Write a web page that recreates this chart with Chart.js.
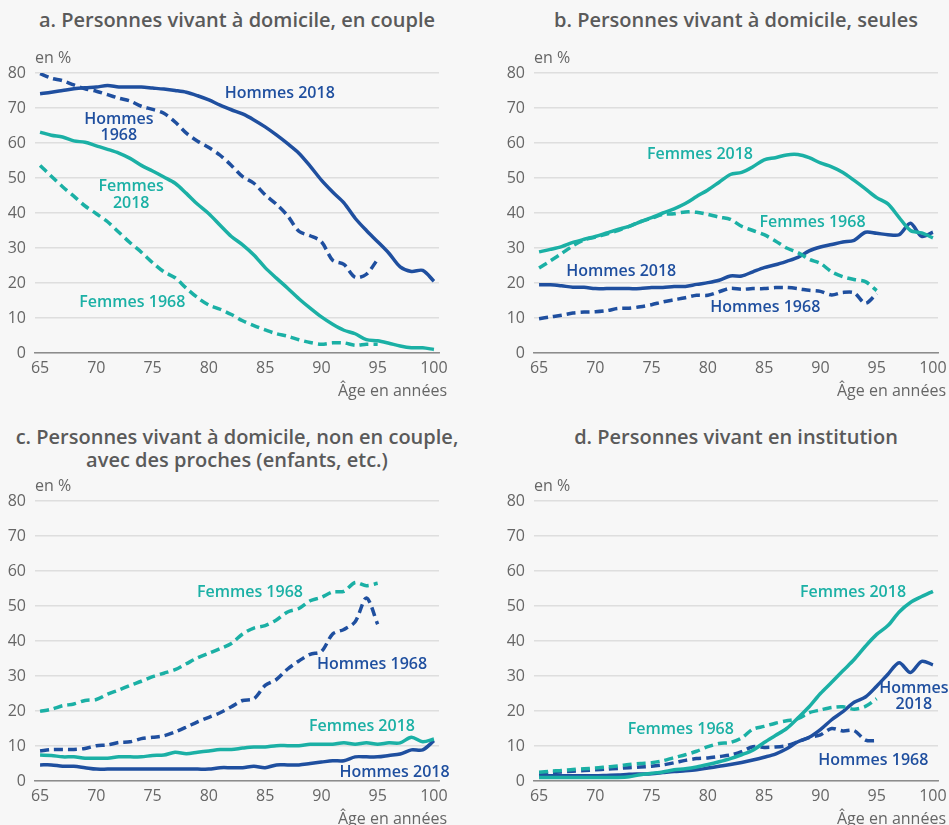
<!DOCTYPE html>
<html lang="fr">
<head>
<meta charset="utf-8">
<script src="https://cdn.jsdelivr.net/npm/chart.js@4"></script>
<style>
  html, body { margin: 0; padding: 0; }
  body { width: 949px; height: 825px; background: #f7f7f7; position: relative; overflow: hidden;
         font-family: "Open Sans", sans-serif; }
  .title { position: absolute; width: 480px; text-align: center; font-size: 20px; font-weight: 600;
           color: #5a5a5a; line-height: 23px; }
  canvas { position: absolute; }
</style>
</head>
<body>
<div class="title" style="left:-3px; top:8px;">a. Personnes vivant à domicile, en couple</div>
<div class="title" style="left:496px; top:8px;">b. Personnes vivant à domicile, seules</div>
<div class="title" style="left:-3px; top:425px;">c. Personnes vivant à domicile, non en couple,<br>avec des proches (enfants, etc.)</div>
<div class="title" style="left:496px; top:425px;">d. Personnes vivant en institution</div>
<canvas id="chartA" width="449" height="370" style="left:0; top:40px;"></canvas>
<canvas id="chartB" width="449" height="370" style="left:499px; top:40px;"></canvas>
<canvas id="chartC" width="449" height="370" style="left:0; top:468px;"></canvas>
<canvas id="chartD" width="449" height="370" style="left:499px; top:468px;"></canvas>
<script>
const ages2018 = [65,66,67,68,69,70,71,72,73,74,75,76,77,78,79,80,81,82,83,84,85,86,87,88,89,90,91,92,93,94,95,96,97,98,99,100];
const ages1968 = [65,66,67,68,69,70,71,72,73,74,75,76,77,78,79,80,81,82,83,84,85,86,87,88,89,90,91,92,93,94,95];
const xTicks = [65, 70, 75, 80, 85, 90, 95, 100];
const yTicks = [0, 10, 20, 30, 40, 50, 60, 70, 80];

// a. en couple
const coupleHommes2018 = [74.1,74.5,75,75.5,75.8,76,76.4,76,76,76,75.7,75.4,75,74.5,73.5,72.3,70.8,69.5,68.3,66.6,64.6,62.3,59.8,57.1,53.4,49.4,46,42.9,38.5,35,31.8,28.5,24.6,23.3,23.6,20.5];
const coupleHommes1968 = [79.8,78.5,77.8,76.6,75.5,74.8,73.8,72.8,72,70.5,69.6,68.5,66,62.8,60.5,58.7,56.5,53.6,50.4,48.5,45.2,42.5,39.2,34.8,33.5,31.8,26.5,25.3,21.6,22.5,26.8];
const coupleFemmes2018 = [63.1,62.2,61.7,60.6,60.2,59.2,58.2,57.1,55.6,53.6,52,50.3,48.5,45.6,42.5,39.8,36.5,33.3,30.9,28,24.4,21.4,18.5,15.5,12.8,10.3,8.2,6.5,5.5,3.8,3.5,2.8,2,1.5,1.5,1];
const coupleFemmes1968 = [53.6,50.5,47.5,44.8,42,39.8,37.5,34.5,31.5,28.8,25.8,23.2,21.5,18.5,15.8,13.7,12.5,11,9.2,7.8,6.6,5.5,4.8,3.8,3,2.5,2.9,2.9,2.2,2.5,2.5];

// b. seules
const seulesHommes2018 = [19.5,19.5,19.2,18.8,18.8,18.4,18.4,18.4,18.4,18.4,18.7,18.7,19,19,19.6,20.1,20.8,22,22,23.2,24.4,25.2,26.2,27.3,29.2,30.3,31,31.7,32.2,34.5,34.2,33.8,33.8,37.1,33.3,34.5];
const seulesHommes1968 = [9.8,10.3,10.8,11.4,11.7,11.8,12.1,12.7,12.8,13.2,13.8,14.6,15.2,15.8,16.5,16.5,17.5,18.5,18.2,18.4,18.4,18.7,18.7,18.4,17.9,17.6,16.6,17.3,17.2,14.2,17];
const seulesFemmes2018 = [28.9,29.6,30.4,31.6,32.5,33.3,34.3,35.3,36.2,37.5,38.7,40,41.2,42.7,44.7,46.6,48.8,51,51.6,53.2,55.2,55.8,56.6,56.7,55.8,54.3,53.2,51.6,49.3,46.9,44.4,42.6,38.7,35,34.3,32.9];
const seulesFemmes1968 = [24.3,26.3,28.4,30.6,32.3,33.1,34,35,36.2,37.5,38.5,39.6,39.8,40.3,40.2,39.6,38.8,38.2,36.2,35,33.8,32,30,28.7,26.8,25.6,23.2,21.8,21,20.4,17.8];

// c. avec des proches
const prochesHommes2018 = [4.6,4.6,4.2,4.2,3.8,3.4,3.4,3.4,3.4,3.4,3.4,3.4,3.4,3.4,3.4,3.4,3.8,3.8,3.8,4.2,3.8,4.6,4.6,4.6,5,5.4,5.8,5.8,6.9,6.9,6.9,7.3,7.7,8.9,8.9,11.5];
const prochesHommes1968 = [8.6,9,9,9,9.3,10.1,10.3,11,11.2,12.1,12.5,12.9,14,15.4,16.9,18.2,19.5,21.2,23,23.5,27.3,29,32,34.3,36.2,37,42,43.3,45.5,52.3,44.8];
const prochesFemmes2018 = [7.4,7.3,6.9,6.9,6.5,6.5,6.5,6.9,6.9,6.9,7.3,7.4,8.2,7.8,8.2,8.6,9,9,9.4,9.7,9.7,10.1,10.1,10.1,10.5,10.5,10.5,10.9,10.5,10.9,10.5,10.9,10.9,12.5,11.2,12];
const prochesFemmes1968 = [19.9,20.5,21.5,22,23,23.3,24.8,26,27.3,28.5,29.8,30.8,31.8,33.5,35.2,36.5,37.8,39.3,42,43.7,44.4,46,48.3,49.3,51.5,52.5,54,54.2,56.7,55.8,56.5];

// d. en institution
const institutionHommes2018 = [1.5,1.5,1.5,1.5,1.5,1.5,1.6,1.7,1.9,2,2.1,2.4,2.7,2.9,3.2,3.7,4.2,4.7,5.3,6,6.8,7.7,9.2,11.2,12.5,14.7,17.5,19.8,22.5,24,27.1,30.5,33.8,31,34.2,33.2];
const institutionHommes1968 = [2.2,2.4,2.6,2.8,3,3.2,3.4,3.6,3.8,4,4.2,4.6,5.2,5.9,6.4,6.6,7,7.4,8.4,9.8,9.6,9.7,10.1,11.2,12.4,13.2,15,14.3,14.4,11.7,11.5];
const institutionFemmes2018 = [1,1,1,1,1,1,1,1,1.2,1.8,2.2,2.6,3.2,3.5,4,4.7,5.5,6.4,7.5,8.8,11,13,15,18,21.2,25,28.2,31.5,34.7,38.5,41.9,44.4,48.3,51,52.7,54.2];
const institutionFemmes1968 = [2.5,2.8,3,3.3,3.5,3.7,4,4.3,4.7,5,5.2,5.8,6.7,7.5,8.5,9.8,10.7,11,12.3,14.8,15.6,16.5,17.2,17.8,19.5,20.3,21,21.2,20.5,21.3,23.5];

const BLUE = "#1f4f9f";
const TEAL = "#1bb0a5";

const labelsA = [
  { text: ["Hommes 2018"], x: 86.3, y: 74.1, color: BLUE },
  { text: ["Hommes", "1968"], x: 72.0, y: 64.4, color: BLUE },
  { text: ["Femmes", "2018"], x: 73.1, y: 45.2, color: TEAL },
  { text: ["Femmes 1968"], x: 73.2, y: 14.4, color: TEAL },
];
const labelsB = [
  { text: ["Femmes 2018"], x: 79.3, y: 56.7, color: TEAL },
  { text: ["Femmes 1968"], x: 89.3, y: 37.3, color: TEAL },
  { text: ["Hommes 2018"], x: 72.3, y: 23.3, color: BLUE },
  { text: ["Hommes 1968"], x: 85.1, y: 13.0, color: BLUE },
];
const labelsC = [
  { text: ["Femmes 1968"], x: 83.65, y: 54.0, color: TEAL },
  { text: ["Hommes 1968"], x: 94.5, y: 33.4, color: BLUE },
  { text: ["Femmes 2018"], x: 93.6, y: 15.6, color: TEAL },
  { text: ["Hommes 2018"], x: 96.5, y: 2.4, color: BLUE },
];
const labelsD = [
  { text: ["Femmes 2018"], x: 92.9, y: 54.0, color: TEAL },
  { text: ["Femmes 1968"], x: 77.6, y: 14.8, color: TEAL },
  { text: ["Hommes", "2018"], x: 98.3, y: 24.1, color: BLUE },
  { text: ["Hommes 1968"], x: 94.7, y: 5.9, color: BLUE },
];

function points(ages, values) {
  return ages.map((a, i) => ({ x: a, y: values[i] }));
}

function series(ages, values, color, dashed) {
  return {
    data: points(ages, values),
    borderColor: color,
    borderWidth: 3.5,
    borderDash: dashed ? [9, 5] : [],
    pointRadius: 0,
    tension: 0.3,
    fill: false,
  };
}

const textPlugin = {
  id: "panelText",
  afterDatasetsDraw(chart, args, opts) {
    const { ctx, chartArea, scales } = chart;
    ctx.save();
    ctx.font = "16px 'Open Sans'";
    ctx.fillStyle = "#666";
    ctx.textAlign = "left";
    ctx.textBaseline = "middle";
    ctx.fillText("en %", chartArea.left, chartArea.top - 15);
    ctx.textAlign = "right";
    ctx.fillText("Âge en années", chartArea.right + 8, chartArea.bottom + 38);
    ctx.font = "600 16px 'Open Sans'";
    ctx.textAlign = "center";
    opts.items.forEach((item) => {
      ctx.fillStyle = item.color;
      const px = scales.x.getPixelForValue(item.x);
      const py = scales.y.getPixelForValue(item.y);
      const n = item.text.length;
      item.text.forEach((line, i) => {
        ctx.fillText(line, px, py + (i - (n - 1) / 2) * 16.5);
      });
    });
    ctx.restore();
  },
};

function makePanel(id, hommes2018, hommes1968, femmes2018, femmes1968, items) {
  new Chart(document.getElementById(id), {
    type: "line",
    data: {
      datasets: [
        series(ages2018, femmes2018, TEAL, false),
        series(ages1968, femmes1968, TEAL, true),
        series(ages2018, hommes2018, BLUE, false),
        series(ages1968, hommes1968, BLUE, true),
      ],
    },
    options: {
      responsive: false,
      animation: false,
      layout: { padding: { top: 33, right: 10, bottom: 0, left: 0 } },
      plugins: { legend: { display: false }, tooltip: { enabled: false }, panelText: { items } },
      scales: {
        x: {
          type: "linear",
          min: 64.55,
          max: 100.45,
          afterBuildTicks: (scale) => { scale.ticks = xTicks.map((v) => ({ value: v })); },
          afterFit: (scale) => {
            scale.height = 57;
            scale.paddingLeft = 0;
            scale.paddingRight = 0;
          },
          grid: { display: false, drawTicks: false },
          border: { display: true, color: "#8c8c8c", width: 1.5 },
          ticks: { color: "#666", font: { family: "Open Sans", size: 16 }, padding: 6, maxRotation: 0, autoSkip: false },
        },
        y: {
          min: 0,
          max: 80,
          afterBuildTicks: (scale) => { scale.ticks = yTicks.map((v) => ({ value: v })); },
          afterFit: (scale) => {
            scale.width = 35;
            scale.paddingTop = 0;
            scale.paddingBottom = 0;
          },
          grid: { color: "#dedede", lineWidth: 1.5, drawTicks: false },
          border: { display: false },
          ticks: { color: "#666", font: { family: "Open Sans", size: 16 }, padding: 9 },
        },
      },
    },
    plugins: [textPlugin],
  });
}

makePanel("chartA", coupleHommes2018, coupleHommes1968, coupleFemmes2018, coupleFemmes1968, labelsA);
makePanel("chartB", seulesHommes2018, seulesHommes1968, seulesFemmes2018, seulesFemmes1968, labelsB);
makePanel("chartC", prochesHommes2018, prochesHommes1968, prochesFemmes2018, prochesFemmes1968, labelsC);
makePanel("chartD", institutionHommes2018, institutionHommes1968, institutionFemmes2018, institutionFemmes1968, labelsD);
</script>
</body>
</html>
